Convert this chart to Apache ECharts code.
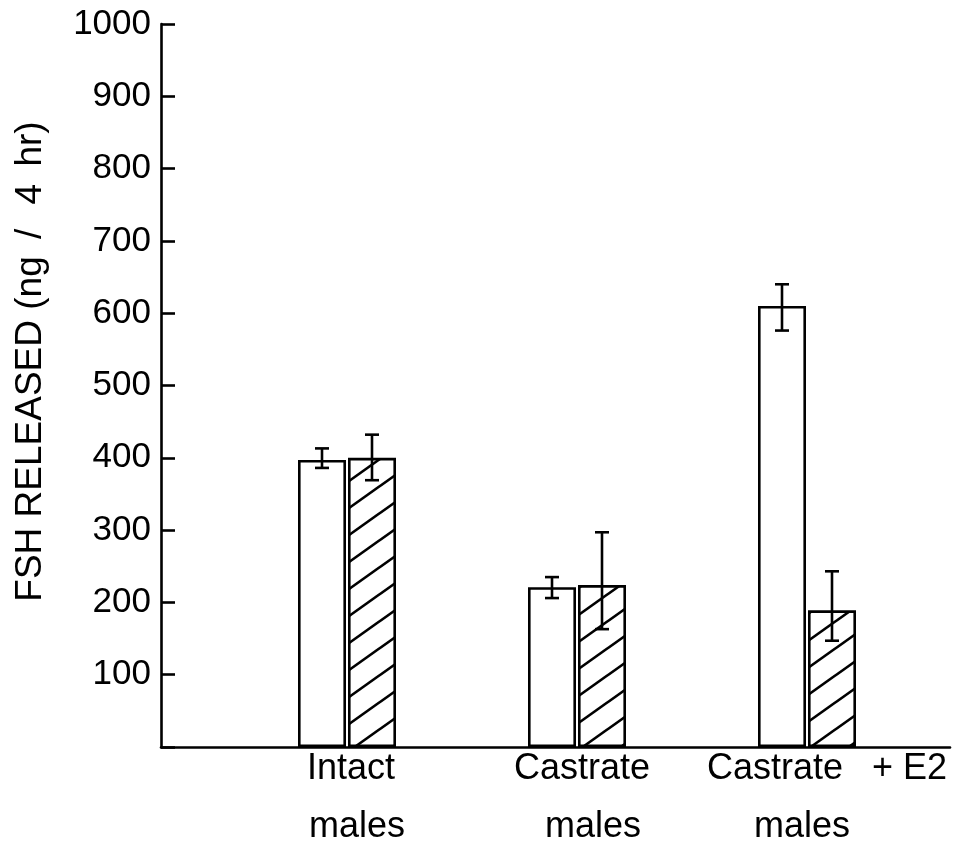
<!DOCTYPE html>
<html><head><meta charset="utf-8">
<script src="https://cdn.jsdelivr.net/npm/echarts@6/dist/echarts.min.js"></script>
<style>html,body{margin:0;padding:0;background:#fff}#c{width:969px;height:856px}</style>
</head><body><div id="c"></div>
<script>
// ---------- data ----------
const categories = ['Intact males', 'Castrate males', 'Castrate + E2 males'];
const labelLine1 = ['Intact', 'Castrate', 'Castrate + E2'];
const labelLine2 = ['males', 'males', 'males'];
const openValues = [397, 221, 610];
const openLow = [386, 206, 576];
const openHigh = [413, 235, 640];
const hatchedValues = [400, 224, 189];
const hatchedLow = [369, 163, 147];
const hatchedHigh = [432, 297, 243];
const yMin = 0, yMax = 1000, yInterval = 100;
const yTitleWords = ['FSH', 'RELEASED', '(ng', '/', '4', 'hr)'];

// ---------- style / layout ----------
const FONT = '"Liberation Sans", Arial, Helvetica, sans-serif';
const BAR_W = 48, GAP_PX = 2;
const HALF = (BAR_W + GAP_PX) / 2;
const line1Shift = [4, 5, 20];
const line2Shift = [10, 16, -5];
const titleWordPad = [0, 0, 0, 7, 7, 0];

function pad(s) { return s >= 0 ? [0, 0, 0, 2 * s] : [0, -2 * s, 0, 0]; }

function hatchCanvas() {
  const w = 38, h = 27;
  const c = document.createElement('canvas');
  c.width = w; c.height = h;
  const g = c.getContext('2d');
  g.fillStyle = '#fff'; g.fillRect(0, 0, w, h);
  g.strokeStyle = '#000'; g.lineWidth = 2.6;
  [-h, 0, h].forEach(function (dy) {
    g.beginPath();
    g.moveTo(-w, 2 * h + dy);
    g.lineTo(2 * w, dy - h);
    g.stroke();
  });
  return c;
}

const LFS = 36;
const rich = { p: { fontSize: LFS, fontFamily: FONT, color: '#000', lineHeight: 44, padding: [0, 0, 0, 19] } };
labelLine1.forEach(function (t, i) {
  rich['a' + i] = { fontSize: LFS, fontFamily: FONT, color: '#000', lineHeight: 44, padding: pad(line1Shift[i]) };
  rich['b' + i] = { fontSize: LFS, fontFamily: FONT, color: '#000', lineHeight: 72, padding: pad(line2Shift[i]) };
});

const titleRich = {};
const titleParts = yTitleWords.map(function (w, i) {
  titleRich['t' + i] = { fontSize: 37, fontFamily: FONT, color: '#000',
    padding: [0, titleWordPad[i], 0, titleWordPad[i]] };
  return '{t' + i + '|' + w + '}';
});
const yTitle = titleParts.join(' ');

function errRender(offset) {
  return function (params, api) {
    const i = api.value(0);
    const lo = api.coord([i, api.value(1)]);
    const hi = api.coord([i, api.value(2)]);
    const x = lo[0] + offset, cw = 7;
    const st = { stroke: '#000', lineWidth: 2.6 };
    return { type: 'group', children: [
      { type: 'line', shape: { x1: x, y1: hi[1], x2: x, y2: lo[1] }, style: st },
      { type: 'line', shape: { x1: x - cw, y1: hi[1], x2: x + cw, y2: hi[1] }, style: st },
      { type: 'line', shape: { x1: x - cw, y1: lo[1], x2: x + cw, y2: lo[1] }, style: st }
    ] };
  };
}

function xLabel(v, i) {
  const parts = labelLine1[i].split(' + ');
  const l1 = parts.length > 1
    ? '{a' + i + '|' + parts[0] + ' }{p|+ ' + parts[1] + '}'
    : '{a' + i + '|' + labelLine1[i] + '}';
  return l1 + '\n{b' + i + '|' + labelLine2[i] + '}';
}

const chart = echarts.init(document.getElementById('c'), null, { renderer: 'canvas' });
chart.setOption({
  animation: false,
  backgroundColor: '#fff',
  grid: [
    { left: 161, right: 19, top: 24, bottom: 109 },
    { left: 232, right: 47, top: 24, bottom: 109 }
  ],
  xAxis: [
    { gridIndex: 0, type: 'category', data: [''], axisLine: { show: true, lineStyle: { color: '#000', width: 2.6 } },
      axisTick: { show: false }, axisLabel: { show: false } },
    { gridIndex: 1, type: 'category', data: categories, axisLine: { show: false }, axisTick: { show: false },
      axisLabel: { margin: 0, interval: 0, rich: rich, formatter: xLabel } }
  ],
  yAxis: [
    { gridIndex: 0, type: 'value', min: yMin, max: yMax, interval: yInterval,
      name: yTitle, nameLocation: 'middle', nameGap: 112,
      nameTextStyle: { fontSize: 37, fontFamily: FONT, color: '#000', rich: titleRich, padding: [0, 0, 0, 48] },
      axisLine: { show: true, lineStyle: { color: '#000', width: 2.6 } },
      axisTick: { show: true, inside: true, length: 14, lineStyle: { color: '#000', width: 2.6 } },
      axisLabel: { fontSize: 35, fontFamily: FONT, color: '#000', margin: 10,
        formatter: function (v) { return v === 0 ? '' : String(v); } },
      splitLine: { show: false } },
    { gridIndex: 1, type: 'value', min: yMin, max: yMax, interval: yInterval, show: false, splitLine: { show: false } }
  ],
  series: [
    { type: 'bar', name: 'Open', xAxisIndex: 1, yAxisIndex: 1, data: openValues, barWidth: BAR_W,
      barGap: (GAP_PX / BAR_W * 100) + '%',
      itemStyle: { color: '#fff', borderColor: '#000', borderWidth: 2.6 } },
    { type: 'bar', name: 'Hatched', xAxisIndex: 1, yAxisIndex: 1, data: hatchedValues, barWidth: BAR_W,
      barGap: (GAP_PX / BAR_W * 100) + '%',
      itemStyle: { color: { image: hatchCanvas(), repeat: 'repeat' }, borderColor: '#000', borderWidth: 2.6 } },
    { type: 'custom', name: 'Open SEM', xAxisIndex: 1, yAxisIndex: 1, z: 10,
      encode: { x: 0, y: [1, 2] },
      data: categories.map(function (c, i) { return [i, openLow[i], openHigh[i]]; }),
      renderItem: errRender(-HALF) },
    { type: 'custom', name: 'Hatched SEM', xAxisIndex: 1, yAxisIndex: 1, z: 10,
      encode: { x: 0, y: [1, 2] },
      data: categories.map(function (c, i) { return [i, hatchedLow[i], hatchedHigh[i]]; }),
      renderItem: errRender(HALF) }
  ]
});
</script></body></html>
